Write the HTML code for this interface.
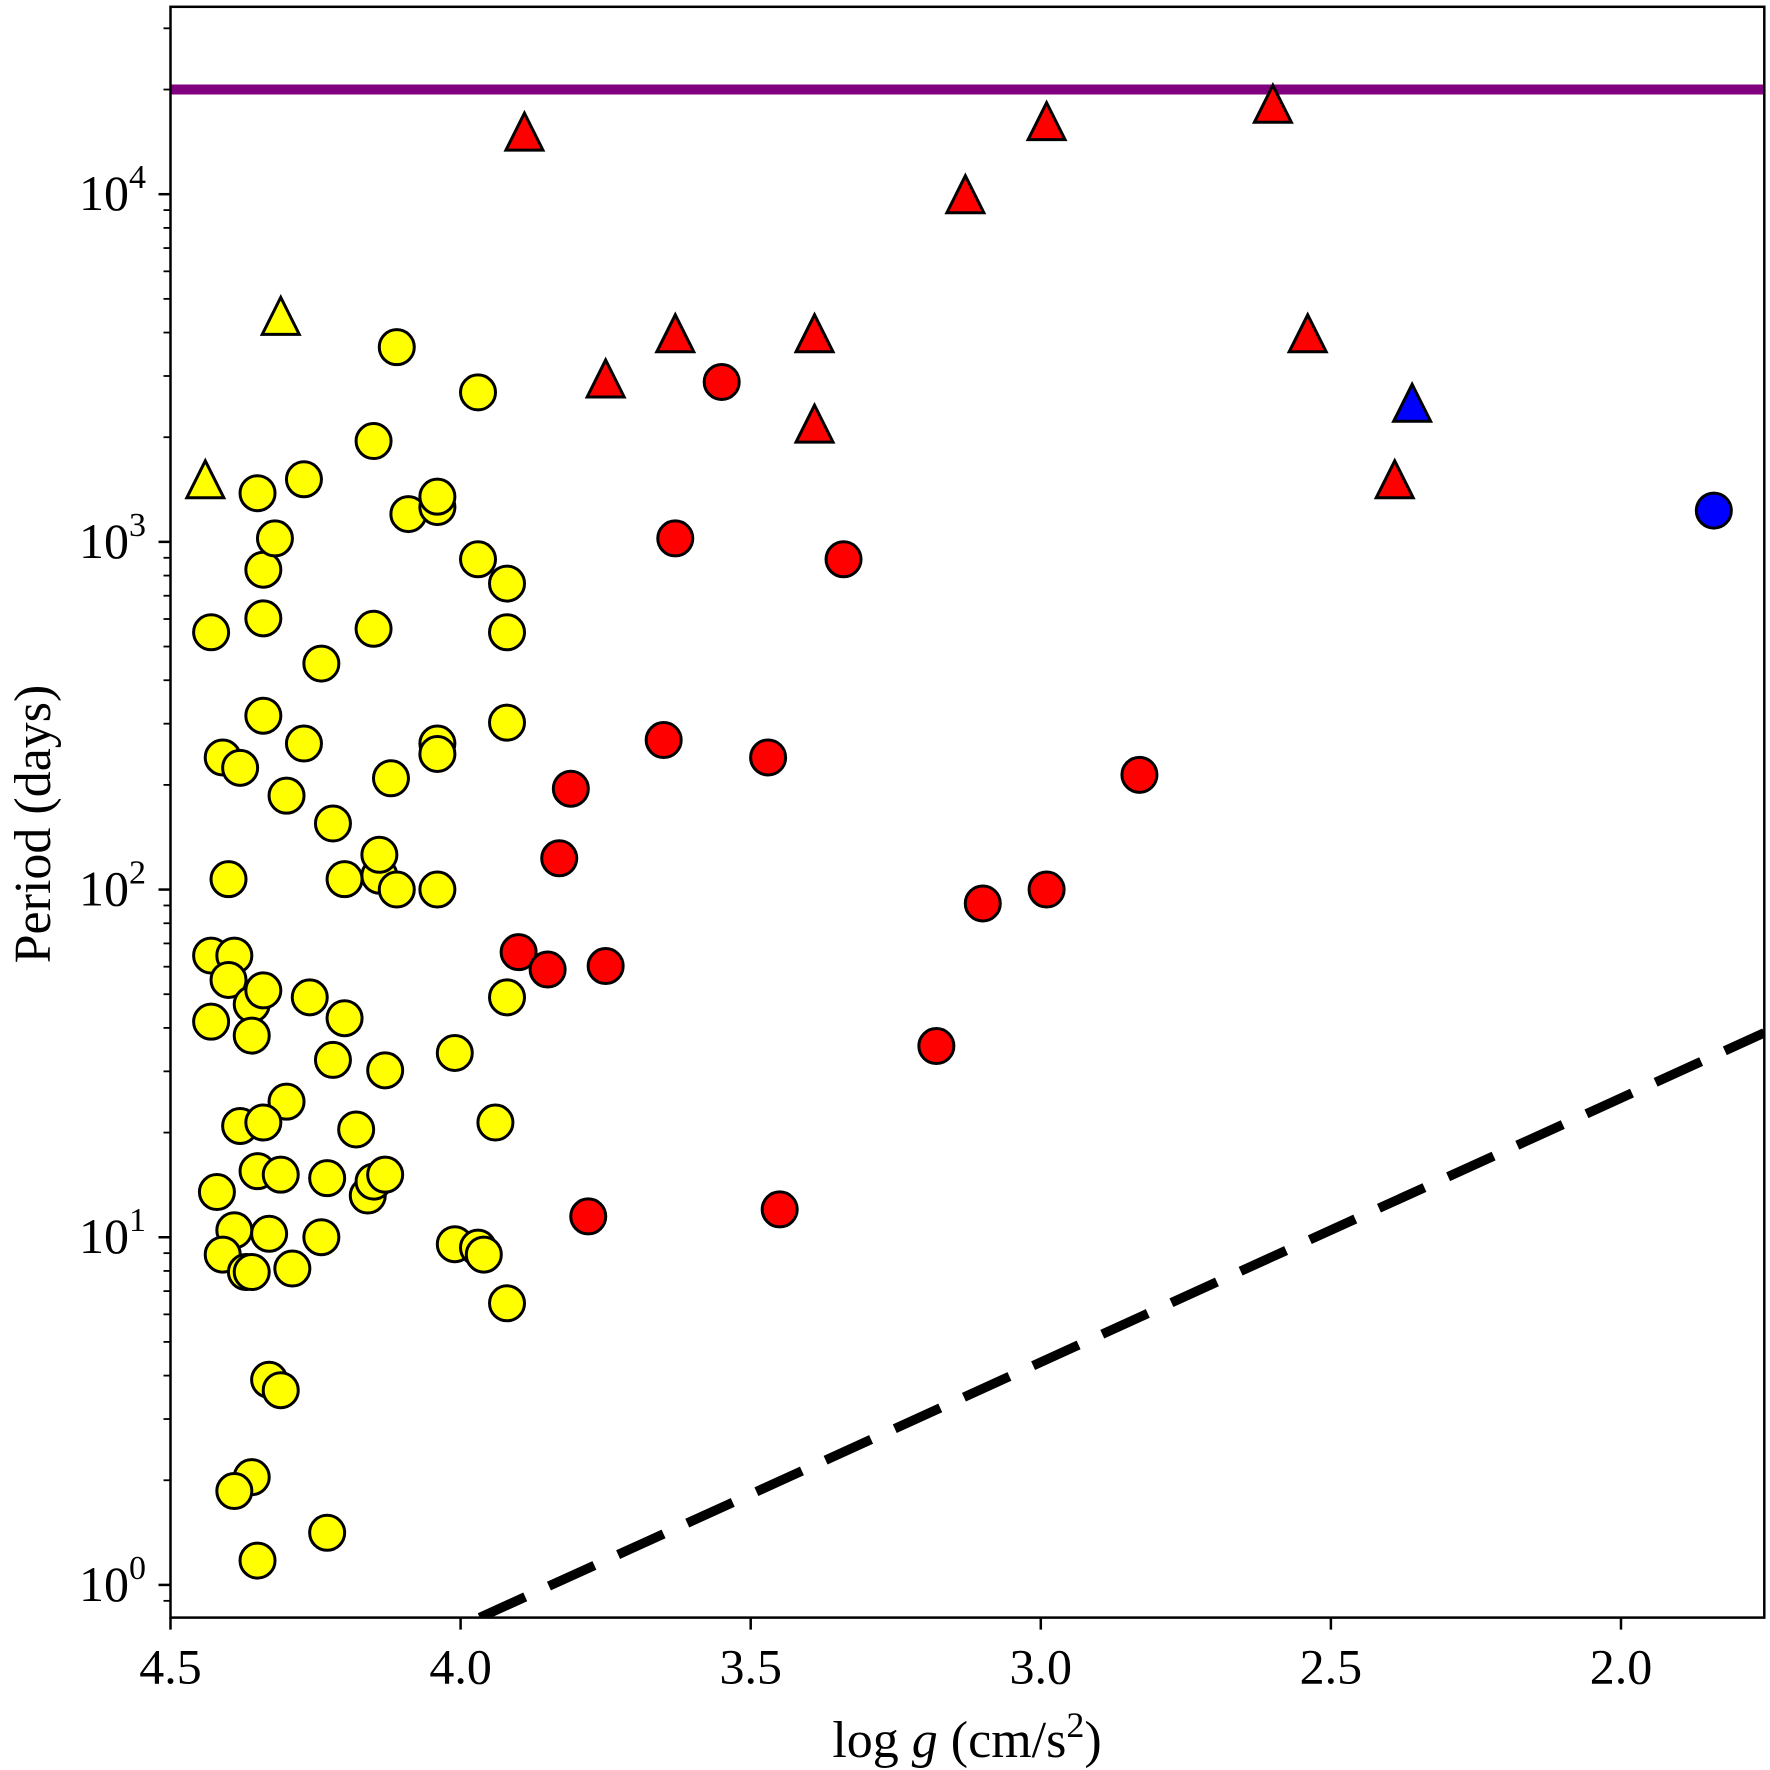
<!DOCTYPE html>
<html><head><meta charset="utf-8"><style>
html,body{margin:0;padding:0;background:#fff;}
svg{display:block;}
text{font-family:"Liberation Serif","DejaVu Serif",serif;fill:#000;}
</style></head><body>
<svg id="chart" width="1770" height="1770" viewBox="0 0 1770 1770" xmlns="http://www.w3.org/2000/svg">
<g id="plot"></g>
</svg>
<script>
// Data (log g, log10 Period in days)
const yellowCircLogg=[4.43,4.41,4.40,4.43,4.39,4.40,4.43,4.34,4.34,4.35,4.32,4.34,4.38,4.30,4.27,4.27,4.24,4.22,4.15,4.11,3.97,4.09,4.04,4.04,3.97,3.92,3.92,3.92,4.15,4.12,4.14,4.14,4.11,4.20,4.04,4.04,4.04,3.92,4.01,3.94,4.36,4.36,4.34,4.26,4.20,4.22,4.13,4.30,4.38,4.34,4.18,4.35,4.31,4.42,4.23,4.16,4.15,4.13,4.39,4.33,4.24,4.41,4.37,4.36,4.29,4.01,3.97,3.96,3.92,4.33,4.31,4.36,4.39,4.23,4.35];
const yellowCircLogP=[2.74,2.38,2.03,1.81,1.81,1.74,1.62,2.92,2.78,3.14,3.01,2.50,2.35,2.27,2.42,3.18,2.65,2.19,3.29,3.56,3.43,3.08,3.10,3.13,2.95,2.88,2.74,2.48,2.75,2.32,2.04,2.10,2.00,2.03,2.42,2.39,2.00,1.69,1.53,1.33,1.67,1.58,1.71,1.69,1.63,1.51,1.48,1.39,1.32,1.33,1.31,1.19,1.18,1.13,1.17,1.12,1.16,1.18,1.02,1.01,1.00,0.95,0.90,0.90,0.91,0.98,0.97,0.95,0.81,0.59,0.56,0.31,0.27,0.15,0.07];
const yellowTriLogg=[4.31,4.44];
const yellowTriLogP=[3.65,3.18];
const redCircLogg=[3.55,3.63,3.34,3.65,3.47,3.81,2.83,3.83,3.10,2.99,3.90,3.85,3.75,3.18,3.78,3.45];
const redCircLogP=[3.46,3.01,2.95,2.43,2.38,2.29,2.33,2.09,1.96,2.00,1.82,1.77,1.78,1.55,1.06,1.08];
const redTriLogg=[3.89,2.99,2.60,3.13,3.63,3.39,2.54,3.75,3.39,2.39];
const redTriLogP=[4.18,4.21,4.26,4.00,3.60,3.60,3.60,3.47,3.34,3.18];
const blueTriLogg=[2.36];
const blueTriLogP=[3.40];
const blueCircLogg=[1.84];
const blueCircLogP=[3.09];
const xTicks=[4.5,4.0,3.5,3.0,2.5,2.0];
const xTickLabels=["4.5","4.0","3.5","3.0","2.5","2.0"];
const yTicks=[0,1,2,3,4];
const limitPeriod=[20000];
const dashLine={logg:[3.967,1.753],logP:[-0.094,1.588]};

const L=170.5,R=1764.3,T=6.8,B=1617.6;
const XMAX=4.5,XMIN=1.753;
const YMIN=-0.094,YMAX=4.539;
function sx(g){return L+(XMAX-g)/(XMAX-XMIN)*(R-L);}
function sy(lp){return B-(lp-YMIN)/(YMAX-YMIN)*(B-T);}
const NS="http://www.w3.org/2000/svg";
const svg=document.getElementById('chart');
const plot=document.getElementById('plot');
function mk(tag,attrs,parent){const e=document.createElementNS(NS,tag);for(const k in attrs)e.setAttribute(k,attrs[k]);(parent||svg).appendChild(e);return e;}

const defs=mk('defs',{});
const cp=mk('clipPath',{id:'clip'},defs);
mk('rect',{x:L,y:T,width:R-L,height:B-T},cp);
plot.setAttribute('clip-path','url(#clip)');

limitPeriod.forEach(p=>{
  const l=mk('line',{x1:L,x2:R,y1:sy(Math.log10(p)),y2:sy(Math.log10(p)),stroke:'#800080','stroke-width':10},plot);
  
  
});
const dl=mk('line',{x1:sx(dashLine.logg[0]),y1:sy(dashLine.logP[0]),x2:sx(dashLine.logg[1]),y2:sy(dashLine.logP[1]),stroke:'#000','stroke-width':9.5,'stroke-dasharray':'50 26'},plot);



function circles(gs,ps,fill,name){
  gs.forEach((g,i)=>{
    const c=mk('circle',{cx:sx(g),cy:sy(ps[i]),r:17.5,fill:fill,stroke:'#000','stroke-width':3},plot);
    
    
  });
}
function tris(gs,ps,fill,name){
  gs.forEach((g,i)=>{
    const x=sx(g),y=sy(ps[i]),h=18.5;
    const t=mk('polygon',{points:`${x},${y-h} ${x-h},${y+h} ${x+h},${y+h}`,fill:fill,stroke:'#000','stroke-width':3,'stroke-linejoin':'miter'},plot);
    
    
  });
}
circles(yellowCircLogg,yellowCircLogP,'#ffff00','yellow-circle-point');
tris(yellowTriLogg,yellowTriLogP,'#ffff00','yellow-triangle-point');
circles(redCircLogg,redCircLogP,'#ff0000','red-circle-point');
tris(redTriLogg,redTriLogP,'#ff0000','red-triangle-point');
tris(blueTriLogg,blueTriLogP,'#0000ff','blue-triangle-point');
circles(blueCircLogg,blueCircLogP,'#0000ff','blue-circle-point');

const fr=mk('rect',{x:L,y:T,width:R-L,height:B-T,fill:'none',stroke:'#000','stroke-width':2.5});



xTicks.forEach((v,i)=>{
  const x=sx(v);
  const t=mk('line',{x1:x,x2:x,y1:B,y2:B+12,stroke:'#000','stroke-width':2.5});
  
  
  const tx=mk('text',{x:x,y:B+66,'text-anchor':'middle','font-size':50});
  tx.textContent=xTickLabels[i];
  
  
});
for(let d=-1;d<=4;d++){
  for(let m=1;m<10;m++){
    const lp=d+Math.log10(m);
    if(lp<YMIN||lp>YMAX)continue;
    const y=sy(lp);
    const major=m===1;
    const t=mk('line',{x1:L,x2:L-(major?12:7),y1:y,y2:y,stroke:'#000','stroke-width':major?2.5:1.8});
    
    
  }
}
yTicks.forEach(v=>{
  const y=sy(v);
  const tx=mk('text',{x:146,y:y+16,'text-anchor':'end','font-size':50});
  tx.innerHTML='10<tspan dy="-22" font-size="34">'+v+'</tspan>';
  
  
});
const xl=mk('text',{x:967,y:1757,'text-anchor':'middle','font-size':52});
xl.innerHTML='log <tspan font-style="italic">g</tspan> (cm/s<tspan dy="-20" font-size="36">2</tspan><tspan dy="20">)</tspan>';


const yl=mk('text',{x:0,y:0,'text-anchor':'middle','font-size':52,transform:'translate(50,824) rotate(-90)'});
yl.textContent='Period (days)';


</script>
</body></html>
